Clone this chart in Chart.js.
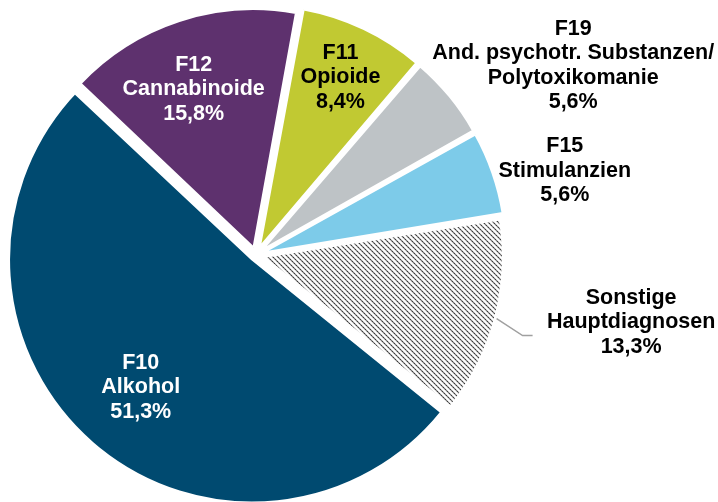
<!DOCTYPE html>
<html>
<head>
<meta charset="utf-8">
<script src="https://cdn.jsdelivr.net/npm/chart.js@4.4.1/dist/chart.umd.min.js"></script>
<style>
  html, body { margin: 0; padding: 0; background: #fff; }
  #wrap { width: 718px; height: 502px; }
</style>
</head>
<body>
<div id="wrap"><canvas id="pie" width="718" height="502"></canvas></div>
<script>
// slices, clockwise from just right of 12 o'clock
const codes = ['F11', 'F19', 'F15', '', 'F10', 'F12'];
const names = [
    ['Opioide'],
    ['And. psychotr. Substanzen/', 'Polytoxikomanie'],
    ['Stimulanzien'],
    ['Sonstige', 'Hauptdiagnosen'],
    ['Alkohol'],
    ['Cannabinoide']
];
const shares = [8.4, 5.6, 5.6, 13.3, 51.3, 15.8];

// dotted diagonal hatch for "Sonstige"
function hatch() {
    const c = document.createElement('canvas');
    c.width = 10; c.height = 10;
    const g = c.getContext('2d');
    g.fillStyle = '#fff';
    g.fillRect(0, 0, 10, 10);
    for (let i = 0; i < 10; i++) {
        g.fillStyle = '#c4c4c4';
        g.fillRect((i + 1) % 10, i, 1, 1);
        g.fillRect((i + 6) % 10, i, 1, 1);
        g.fillStyle = i % 2 ? '#000' : '#4a4a4a';
        g.fillRect(i, i, 1, 1);
        g.fillRect((i + 5) % 10, i, 1, 1);
    }
    return g.createPattern(c, 'repeat');
}

const fills = ['#C1C932', '#BEC3C6', '#7DCBE9', hatch(), '#004A70', '#5E316E'];
// label placement: k = fraction of radius along mid angle, then a nudge
const place = [
    { k: 0.83, dx: 0, dy: 0, color: '#000' },
    { k: 1.0, dx: 134, dy: -39, color: '#000' },
    { k: 1.0, dx: 85, dy: -6, color: '#000' },
    { k: 1.0, dx: 146, dy: 7, color: '#000' },
    { k: 0.74, dx: 0, dy: 0, color: '#fff' },
    { k: 0.75, dx: -7, dy: 3, color: '#fff' }
];

const sliceLabels = {
    id: 'sliceLabels',
    afterDatasetsDraw(chart) {
        const ctx = chart.ctx;
        const arcs = chart.getDatasetMeta(0).data;
        ctx.save();
        ctx.font = 'bold 21.5px "Liberation Sans", Arial, sans-serif';
        ctx.textAlign = 'center';
        ctx.textBaseline = 'middle';
        arcs.forEach((arc, i) => {
            const mid = (arc.startAngle + arc.endAngle) / 2;
            const r = arc.outerRadius;
            const p = place[i];
            const x = arc.x + Math.cos(mid) * r * p.k + p.dx;
            const y = arc.y + Math.sin(mid) * r * p.k + p.dy;
            const lines = [];
            if (codes[i]) lines.push(codes[i]);
            names[i].forEach(n => lines.push(n));
            lines.push(shares[i].toFixed(1).replace('.', ',') + '%');
            const lh = 24.5;
            const top = y - (lines.length - 1) * lh / 2;
            ctx.fillStyle = p.color;
            lines.forEach((t, j) => ctx.fillText(t, x, top + j * lh));
            if (i === 3) {
                // leader line for the hatched slice
                const sx = arc.x + Math.cos(mid) * r * 1.05;
                const sy = arc.y + Math.sin(mid) * r * 1.05;
                ctx.strokeStyle = '#A0A0A0';
                ctx.lineWidth = 1.5;
                ctx.beginPath();
                ctx.moveTo(sx, sy);
                ctx.lineTo(sx + 26, sy + 17);
                ctx.lineTo(sx + 36, sy + 17);
                ctx.stroke();
            }
        });
        ctx.restore();
    }
};

new Chart(document.getElementById('pie'), {
    type: 'pie',
    data: {
        labels: codes.map((c, i) => (c ? c + ' ' : '') + names[i].join(' ')),
        datasets: [{
            data: shares,
            backgroundColor: fills,
            borderColor: '#fff',
            borderWidth: 2,
            offset: [36, 32, 32, 32, 24, 32],
            clip: false
        }]
    },
    options: {
        responsive: false,
        animation: false,
        events: [],
        rotation: 10.3,
        radius: 237,
        layout: { padding: { left: 0, right: 206, top: 8, bottom: 0 } },
        plugins: {
            legend: { display: false },
            tooltip: { enabled: false }
        }
    },
    plugins: [sliceLabels]
});
</script>
</body>
</html>
